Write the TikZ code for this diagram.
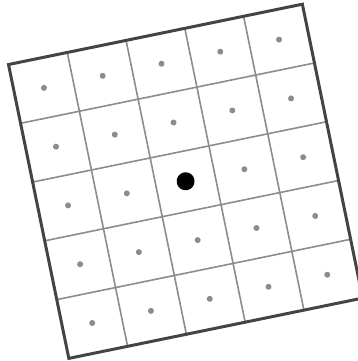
\documentclass[tikz,border=0pt]{standalone}
\usepackage{tikz}
\definecolor{Gframe}{RGB}{68,68,68}
\definecolor{Gmid}{RGB}{140,140,140}
\tikzset{
    gridline/.style={draw=Gmid, line width=1.6pt},
    gridframe/.style={draw=Gframe, line width=3pt},
    celldot/.style={fill=Gmid},
    centredot/.style={fill=black},
}
\begin{document}
\begin{tikzpicture}[x=1pt, y=1pt]
    \useasboundingbox (0,0) rectangle (357,361);

    % ── rotated 5x5 grid ─────────────────────────────
    \begin{scope}[shift={(185.6,179.7)}, rotate=11.6]
        \foreach \k in {-90,-30,30,90} {
            \draw [gridline] (\k,-150) -- (\k,150);
            \draw [gridline] (-150,\k) -- (150,\k);
        }
        \draw [gridframe] (-150,-150) rectangle (150,150);

        % ── cell centres ─────────────────────────────
        \foreach \i in {-120,-60,0,60,120} {
            \foreach \j in {-120,-60,0,60,120} {
                \ifnum\i=0 \ifnum\j=0 \else
                    \fill [celldot] (\i,\j) circle (3);
                \fi \else
                    \fill [celldot] (\i,\j) circle (3);
                \fi
            }
        }
        \fill [centredot] (0,0) circle (9);
    \end{scope}

\end{tikzpicture}
\end{document}
